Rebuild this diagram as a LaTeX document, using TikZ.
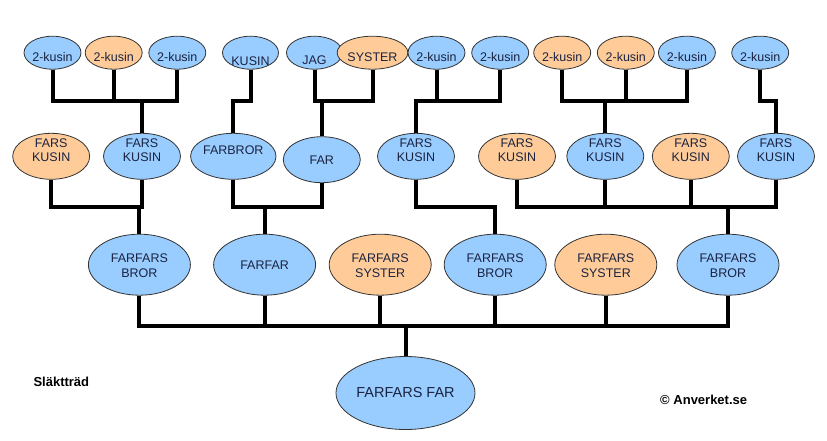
\documentclass[tikz,border=0pt]{standalone}
\usepackage{fontspec}
\setmainfont{Liberation Sans}
\usetikzlibrary{shapes.geometric}
\definecolor{blu}{HTML}{99CCFF}
\definecolor{ora}{HTML}{FFCC99}
\definecolor{ink}{HTML}{1A2340}
\newcommand\tx[2]{\raisebox{#1pt}[0pt][0pt]{\begin{tabular}[b]{@{}c@{}}#2\end{tabular}}}
\begin{document}
\begin{tikzpicture}[x=1pt,y=-1pt,
  pers/.style={ellipse, draw=black!80, line width=0.8pt, inner sep=0pt, text=ink},
  topn/.style={pers, minimum width=56pt, minimum height=33pt, font=\fontsize{12.5}{13.7}\selectfont},
  midn/.style={pers, minimum width=77pt, minimum height=46pt, font=\fontsize{12.5}{13.7}\selectfont},
  botn/.style={pers, minimum width=102pt, minimum height=61pt, font=\fontsize{12.5}{14.6}\selectfont},
  rootn/.style={pers, minimum width=122pt, minimum height=73pt, font=\fontsize{14.5}{16}\selectfont},
  bfill/.style={fill=blu},
  ofill/.style={fill=ora},
  link/.style={line width=4pt, line join=miter, draw=black},
  note/.style={anchor=base west, text=black, font=\bfseries\fontsize{13}{15}\selectfont}]
\fill[white] (0,0) rectangle (827,440);
\useasboundingbox (0,0) rectangle (827,440);
\coordinate (ya) at (0,100.7);
\coordinate (yc) at (0,206.7);
\coordinate (yd) at (0,326);
% top row
\node[topn,bfill] (t1) at (52.5,52.7) {\tx{-8.8}{2-kusin}};
\node[topn,ofill] (t2) at (113.7,52.7) {\tx{-8.8}{2-kusin}};
\node[topn,bfill] (t3) at (177.3,52.7) {\tx{-8.8}{2-kusin}};
\node[topn,bfill] (kus) at (250.5,52.7) {\tx{-12.8}{KUSIN}};
\node[topn,bfill] (jag) at (314.5,52.7) {\tx{-11.8}{JAG}};
\node[topn,ofill] (sys) at (372.5,52.7) {\tx{-8.8}{SYSTER}};
\node[topn,bfill] (t7) at (436.5,52.7) {\tx{-8.8}{2-kusin}};
\node[topn,bfill] (t8) at (500.2,52.7) {\tx{-8.8}{2-kusin}};
\node[topn,ofill] (t9) at (562.2,52.7) {\tx{-8.8}{2-kusin}};
\node[topn,ofill] (t10) at (625.8,52.7) {\tx{-8.8}{2-kusin}};
\node[topn,bfill] (t11) at (686.9,52.7) {\tx{-8.8}{2-kusin}};
\node[topn,bfill] (t12) at (760.2,52.7) {\tx{-8.8}{2-kusin}};
% middle row
\node[midn,ofill] (m1) at (51.2,156.3) {\tx{-5}{FARS\\KUSIN}};
\node[midn,bfill] (m2) at (142,156.3) {\tx{-5}{FARS\\KUSIN}};
\node[midn,bfill] (fb) at (233.3,156.3) {\tx{2}{FARBROR}};
\node[midn,bfill] (far) at (321.8,159.7) {\tx{-4.3}{FAR}};
\node[midn,bfill] (m5) at (416,156.3) {\tx{-5}{FARS\\KUSIN}};
\node[midn,ofill] (m6) at (517,156.3) {\tx{-5}{FARS\\KUSIN}};
\node[midn,bfill] (m7) at (605.3,156.3) {\tx{-5}{FARS\\KUSIN}};
\node[midn,ofill] (m8) at (690.8,156.3) {\tx{-5}{FARS\\KUSIN}};
\node[midn,bfill] (m9) at (776,156.3) {\tx{-5}{FARS\\KUSIN}};
% bottom row
\node[botn,bfill] (b1) at (139.4,264.7) {\tx{-12.6}{FARFARS\\BROR}};
\node[botn,bfill] (b2) at (264.6,264.7) {\tx{-4.6}{FARFAR}};
\node[botn,ofill] (b3) at (380.2,264.7) {\tx{-12.6}{FARFARS\\SYSTER}};
\node[botn,bfill] (b4) at (495.2,264.7) {\tx{-12.6}{FARFARS\\BROR}};
\node[botn,ofill] (b5) at (605.8,264.7) {\tx{-12.6}{FARFARS\\SYSTER}};
\node[botn,bfill] (b6) at (728,264.7) {\tx{-12.6}{FARFARS\\BROR}};
% root
\node[rootn,bfill] (root) at (405.5,393) {\tx{-4.7}{FARFARS FAR}};
% notes
\node[note] (title) at (30,386.5) {Släktträd};
\node[note] (copy) at (656.7,404) {© Anverket.se};
% connectors top -> middle
\draw[link] (t1.south) -- (t1.south |- ya) -- (t3.south |- ya) -- (t3.south);
\draw[link] (t2.south) -- (t2.south |- ya);
\draw[link] (m2.north) -- (m2.north |- ya);
\draw[link] (kus.south) -- (kus.south |- ya) -- (fb.north |- ya) -- (fb.north);
\draw[link] (jag.south) -- (jag.south |- ya) -- (sys.south |- ya) -- (sys.south);
\draw[link] (far.north) -- (far.north |- ya);
\draw[link] (m5.north) -- (m5.north |- ya) -- (t8.south |- ya) -- (t8.south);
\draw[link] (t7.south) -- (t7.south |- ya);
\draw[link] (t9.south) -- (t9.south |- ya) -- (t11.south |- ya) -- (t11.south);
\draw[link] (t10.south) -- (t10.south |- ya);
\draw[link] (m7.north) -- (m7.north |- ya);
\draw[link] (t12.south) -- (t12.south |- ya) -- (m9.north |- ya) -- (m9.north);
% connectors middle -> bottom
\draw[link] (m1.south) -- (m1.south |- yc) -- (m2.south |- yc) -- (m2.south);
\draw[link] (b1.north) -- (b1.north |- yc);
\draw[link] (fb.south) -- (fb.south |- yc) -- (far.south |- yc) -- (far.south);
\draw[link] (b2.north) -- (b2.north |- yc);
\draw[link] (m5.south) -- (m5.south |- yc) -- (b4.north |- yc) -- (b4.north);
\draw[link] (m6.south) -- (m6.south |- yc) -- (m9.south |- yc) -- (m9.south);
\draw[link] (m7.south) -- (m7.south |- yc);
\draw[link] (m8.south) -- (m8.south |- yc);
\draw[link] (b6.north) -- (b6.north |- yc);
% connectors bottom -> root
\draw[link] (b1.south) -- (b1.south |- yd) -- (b6.south |- yd) -- (b6.south);
\draw[link] (b2.south) -- (b2.south |- yd);
\draw[link] (b3.south) -- (b3.south |- yd);
\draw[link] (b4.south) -- (b4.south |- yd);
\draw[link] (b5.south) -- (b5.south |- yd);
\draw[link] (root.north) -- (root.north |- yd);
\end{tikzpicture}
\end{document}
